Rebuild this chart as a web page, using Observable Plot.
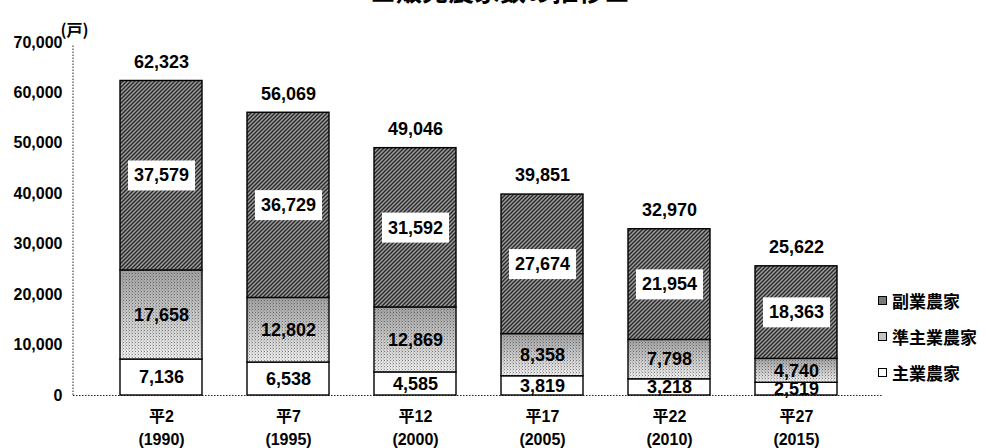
<!DOCTYPE html>
<html>
<head>
<meta charset="utf-8">
<script src="https://cdn.jsdelivr.net/npm/d3@7"></script>
<script src="https://cdn.jsdelivr.net/npm/@observablehq/plot@0.6"></script>
<style>
  body { margin: 0; background: #fff; }
  #wrap { position: relative; width: 987px; height: 448px; overflow: hidden; font-family: "Liberation Sans", "Noto Sans CJK JP", sans-serif; }
  #title { position: absolute; left: 0; width: 1000px; top: -23px; text-align: center; font-family: "Noto Sans CJK JP", sans-serif; font-size: 26px; font-weight: bold; line-height: 1; color: #000; }
  #legend { position: absolute; left: 878px; top: 282px; font-family: "Noto Sans CJK JP", sans-serif; font-size: 17px; font-weight: bold; color: #000; }
  #legend .row { display: flex; align-items: center; height: 36px; }
  #legend .sw { width: 7px; height: 7px; border: 1px solid #000; margin-right: 5px; }
  #chart { position: absolute; left: 0; top: 0; }
</style>
</head>
<body>
<div id="wrap">
  <div id="chart"></div>
  <div id="title"></div>
  <div id="legend"></div>
</div>
<script>
// ---- data ----
const categories = ["平2\n(1990)", "平7\n(1995)", "平12\n(2000)", "平17\n(2005)", "平22\n(2010)", "平27\n(2015)"];
const seriesNames = ["主業農家", "準主業農家", "副業農家"];
const mainFarm = [7136, 6538, 4585, 3819, 3218, 2519];
const semiMainFarm = [17658, 12802, 12869, 8358, 7798, 4740];
const sideFarm = [37579, 36729, 31592, 27674, 21954, 18363];
const totals = [62323, 56069, 49046, 39851, 32970, 25622];
const yTicks = [0, 10000, 20000, 30000, 40000, 50000, 60000, 70000];
const unitLabel = "(戸)";
const titleText = "■販売農家数の推移■";

// ---- styles ----
const fills = { "主業農家": "white", "準主業農家": "url(#semiGrad)", "副業農家": "url(#hatch)" };
const legendSwatch = { "副業農家": "#7a7a7a", "準主業農家": "#c4c4c4", "主業農家": "#fff" };
const numFont = "'Liberation Sans', 'Noto Sans CJK JP', sans-serif";
const fmt = d3.format(",");

const seriesValues = [mainFarm, semiMainFarm, sideFarm];
const rows = categories.flatMap((c, i) => seriesNames.map((s, k) => ({ cat: c, series: s, value: seriesValues[k][i] })));
const totalRows = categories.map((c, i) => ({ cat: c, total: totals[i] }));

const stackOpts = { x: "cat", y: "value", z: "series", order: seriesNames };

const plot = Plot.plot({
  width: 987,
  height: 448,
  marginLeft: 73,
  marginRight: 104,
  marginTop: 42,
  marginBottom: 53,
  style: { fontFamily: numFont, fontSize: "16px", color: "#000", background: "transparent" },
  x: { domain: categories, padding: 0.355, label: null },
  y: { domain: [0, 70000], label: null },
  color: { type: "identity" },
  marks: [
    Plot.ruleY([0], { stroke: "#222", strokeDasharray: "1.5,1.5", strokeWidth: 1 }),
    Plot.axisY({ ticks: yTicks, tickSize: 0, tickPadding: 11, tickFormat: fmt, fontSize: 16, fontWeight: "bold", label: null }),
    Plot.axisX({ tickSize: 0, tickPadding: 11, fontSize: 16, fontWeight: "bold", lineHeight: 1.4, label: null }),
    Plot.barY(rows, Plot.stackY({ ...stackOpts, fill: d => fills[d.series], stroke: "#000", strokeWidth: 1.4 })),
    Plot.barY(rows, Plot.stackY({ ...stackOpts, fill: d => d.series === "準主業農家" ? "url(#dots)" : "none" })),
    Plot.text(rows, Plot.stackY({ ...stackOpts, text: d => fmt(d.value), fontSize: 18, fontWeight: "bold" })),
    Plot.text(totalRows, { x: "cat", y: "total", text: d => fmt(d.total), dy: -19, fontSize: 18, fontWeight: "bold" }),
    Plot.text([unitLabel], { frameAnchor: "top-left", textAnchor: "middle", dy: -18, dx: 1, fontSize: 16, fontWeight: "bold", fontFamily: "'Noto Sans CJK JP', sans-serif" })
  ]
});

document.getElementById("chart").appendChild(plot);
const svg = d3.select(plot);
svg.insert("defs", ":first-child").html(`
  <pattern id="hatch" patternUnits="userSpaceOnUse" width="4" height="4">
    <rect width="4" height="4" fill="#9a9a9a"/>
    <path d="M-1,1 l2,-2 M0,4 l4,-4 M3,5 l2,-2" stroke="#262626" stroke-width="1.3"/>
  </pattern>
  <linearGradient id="semiGrad" x1="0" y1="0" x2="0" y2="1">
    <stop offset="0" stop-color="#a0a0a0"/>
    <stop offset="1" stop-color="#ececec"/>
  </linearGradient>
  <pattern id="dots" patternUnits="userSpaceOnUse" width="3" height="3">
    <rect x="0" y="0" width="1" height="1" fill="#333" fill-opacity="0.55"/>
    <rect x="2" y="1.5" width="1" height="1" fill="#555" fill-opacity="0.35"/>
  </pattern>
`);

// left axis line (dotted), positioned via the plot's y scale
const yScale = plot.scale("y");
svg.append("line")
  .attr("x1", 73).attr("x2", 73)
  .attr("y1", yScale.range[0]).attr("y2", yScale.range[1] + 3)
  .attr("stroke", "#222").attr("stroke-dasharray", "1.5,1.5");

// white boxes behind 副業 labels
const sideLabels = new Set(sideFarm.map(fmt));
svg.selectAll("text").each(function () {
  if (!sideLabels.has(this.textContent)) return;
  const b = this.getBBox();
  const r = document.createElementNS("http://www.w3.org/2000/svg", "rect");
  r.setAttribute("x", b.x - 6);
  r.setAttribute("y", b.y - 5);
  r.setAttribute("width", b.width + 12);
  r.setAttribute("height", b.height + 10);
  r.setAttribute("fill", "white");
  const t = this.getAttribute("transform");
  if (t) r.setAttribute("transform", t);
  this.parentNode.insertBefore(r, this);
});

document.getElementById("title").textContent = titleText;
const legend = d3.select("#legend");
["副業農家", "準主業農家", "主業農家"].forEach(s => {
  const r = legend.append("div").attr("class", "row");
  r.append("div").attr("class", "sw").style("background", legendSwatch[s]);
  r.append("span").text(s);
});
</script>
</body>
</html>
